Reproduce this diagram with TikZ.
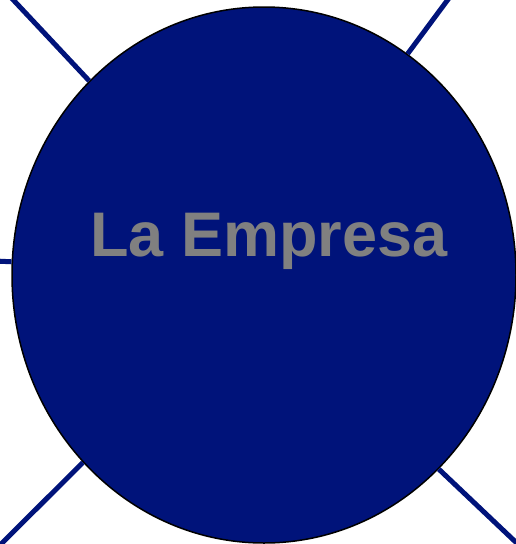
\documentclass[tikz,border=0pt]{standalone}
\usepackage{fontspec}
\setmainfont{Liberation Sans}
\usetikzlibrary{shapes.geometric}
\definecolor{azulemp}{HTML}{00137A}
\definecolor{grisemp}{HTML}{808080}
\tikzset{
  nucleo/.style={ellipse, draw=black, line width=1.5pt, fill=azulemp, inner sep=0pt,
                 minimum width=504pt, minimum height=536pt},
  rotulo/.style={text=grisemp, font=\fontsize{63}{63}\selectfont\bfseries, inner sep=0pt},
  enlace/.style={line width=5pt, draw=azulemp},
}
\begin{document}
\begin{tikzpicture}[x=1pt,y=-1pt]
  \useasboundingbox (0,0) rectangle (516,544);
  % extremos libres de los enlaces
  \coordinate (arrizq) at (4,-10);
  \coordinate (arrder) at (455,-10);
  \coordinate (izq) at (-5,261);
  \coordinate (abaizq) at (-5,550);
  \coordinate (abader) at (523,549);
  \node[nucleo] (empresa) at (264,275) {};
  \node[rotulo, anchor=base] (titulo) at (269,256) {La Empresa};
  \draw[enlace] (arrizq) -- (empresa.132);
  \draw[enlace] (arrder) -- (empresa.57);
  \draw[enlace] (izq) -- (empresa.177);
  \draw[enlace] (abaizq) -- (empresa.226);
  \draw[enlace] (abader) -- (empresa.312);
\end{tikzpicture}
\end{document}
